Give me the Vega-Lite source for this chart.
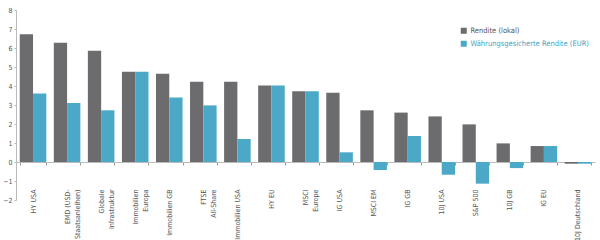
{
  "$schema": "https://vega.github.io/schema/vega-lite/v6.json",
  "width": 579,
  "height": 190,
  "autosize": {"type": "none"},
  "padding": {"left": 16, "top": 10, "right": 5, "bottom": 40},
  "background": "white",
  "config": {
    "view": {"stroke": null},
    "font": "Liberation Sans Narrow, DejaVu Sans Condensed, Roboto"
  },
  "data": {
    "values": [
      {"kategorie": "HY USA", "serie": "Rendite (lokal)", "wert": 6.72},
      {"kategorie": "HY USA", "serie": "Währungsgesicherte Rendite (EUR)", "wert": 3.6},
      {"kategorie": "EMD (USD-Staatsanleihen)", "serie": "Rendite (lokal)", "wert": 6.27},
      {"kategorie": "EMD (USD-Staatsanleihen)", "serie": "Währungsgesicherte Rendite (EUR)", "wert": 3.1},
      {"kategorie": "Globale Infrastruktur", "serie": "Rendite (lokal)", "wert": 5.86},
      {"kategorie": "Globale Infrastruktur", "serie": "Währungsgesicherte Rendite (EUR)", "wert": 2.72},
      {"kategorie": "Immobilien Europa", "serie": "Rendite (lokal)", "wert": 4.75},
      {"kategorie": "Immobilien Europa", "serie": "Währungsgesicherte Rendite (EUR)", "wert": 4.75},
      {"kategorie": "Immobilien GB", "serie": "Rendite (lokal)", "wert": 4.65},
      {"kategorie": "Immobilien GB", "serie": "Währungsgesicherte Rendite (EUR)", "wert": 3.4},
      {"kategorie": "FTSE All-Share", "serie": "Rendite (lokal)", "wert": 4.23},
      {"kategorie": "FTSE All-Share", "serie": "Währungsgesicherte Rendite (EUR)", "wert": 2.98},
      {"kategorie": "Immobilien USA", "serie": "Rendite (lokal)", "wert": 4.23},
      {"kategorie": "Immobilien USA", "serie": "Währungsgesicherte Rendite (EUR)", "wert": 1.21},
      {"kategorie": "HY EU", "serie": "Rendite (lokal)", "wert": 4.02},
      {"kategorie": "HY EU", "serie": "Währungsgesicherte Rendite (EUR)", "wert": 4.02},
      {"kategorie": "MSCI Europe", "serie": "Rendite (lokal)", "wert": 3.72},
      {"kategorie": "MSCI Europe", "serie": "Währungsgesicherte Rendite (EUR)", "wert": 3.72},
      {"kategorie": "IG USA", "serie": "Rendite (lokal)", "wert": 3.65},
      {"kategorie": "IG USA", "serie": "Währungsgesicherte Rendite (EUR)", "wert": 0.51},
      {"kategorie": "MSCI EM", "serie": "Rendite (lokal)", "wert": 2.72},
      {"kategorie": "MSCI EM", "serie": "Währungsgesicherte Rendite (EUR)", "wert": -0.42},
      {"kategorie": "IG GB", "serie": "Rendite (lokal)", "wert": 2.6},
      {"kategorie": "IG GB", "serie": "Währungsgesicherte Rendite (EUR)", "wert": 1.37},
      {"kategorie": "10J USA", "serie": "Rendite (lokal)", "wert": 2.4},
      {"kategorie": "10J USA", "serie": "Währungsgesicherte Rendite (EUR)", "wert": -0.67},
      {"kategorie": "S&P 500", "serie": "Rendite (lokal)", "wert": 1.98},
      {"kategorie": "S&P 500", "serie": "Währungsgesicherte Rendite (EUR)", "wert": -1.14},
      {"kategorie": "10J GB", "serie": "Rendite (lokal)", "wert": 0.98},
      {"kategorie": "10J GB", "serie": "Währungsgesicherte Rendite (EUR)", "wert": -0.32},
      {"kategorie": "IG EU", "serie": "Rendite (lokal)", "wert": 0.84},
      {"kategorie": "IG EU", "serie": "Währungsgesicherte Rendite (EUR)", "wert": 0.84},
      {"kategorie": "10J Deutschland", "serie": "Rendite (lokal)", "wert": -0.09},
      {"kategorie": "10J Deutschland", "serie": "Währungsgesicherte Rendite (EUR)", "wert": -0.09}
    ]
  },
  "mark": {"type": "bar"},
  "encoding": {
    "x": {
      "field": "kategorie",
      "type": "nominal",
      "sort": null,
      "scale": {"paddingInner": 0.22, "paddingOuter": 0.11},
      "axis": {
        "title": null,
        "offset": -38,
        "labelAngle": -90,
        "labelAlign": "right",
        "labelBaseline": "middle",
        "labelPadding": 24,
        "labelFontSize": 7,
        "labelColor": "#555555",
        "labelLineHeight": 10,
        "labelExpr": "datum.label == 'EMD (USD-Staatsanleihen)' ? ['EMD (USD-', 'Staatsanleihen)'] : datum.label == 'Globale Infrastruktur' ? ['Globale', 'Infrastruktur'] : datum.label == 'Immobilien Europa' ? ['Immobilien', 'Europa'] : datum.label == 'FTSE All-Share' ? ['FTSE', 'All-Share'] : datum.label == 'MSCI Europe' ? ['MSCI', 'Europe'] : datum.label",
        "tickBand": "extent",
        "tickSize": 3,
        "tickColor": "#999999",
        "domainColor": "#bbbbbb",
        "labelOverlap": false,
        "labelLimit": 0
      }
    },
    "xOffset": {
      "field": "serie",
      "type": "nominal",
      "sort": ["Rendite (lokal)", "Währungsgesicherte Rendite (EUR)"]
    },
    "y": {
      "field": "wert",
      "type": "quantitative",
      "scale": {"domain": [-2, 8], "nice": false, "zero": true},
      "axis": {
        "title": null,
        "values": [-2, -1, 0, 1, 2, 3, 4, 5, 6, 7, 8],
        "grid": false,
        "labelFontSize": 7,
        "labelColor": "#555555",
        "labelPadding": 2,
        "tickSize": 2,
        "tickColor": "#bbbbbb",
        "domainColor": "#bbbbbb"
      }
    },
    "color": {
      "field": "serie",
      "type": "nominal",
      "sort": ["Rendite (lokal)", "Währungsgesicherte Rendite (EUR)"],
      "scale": {
        "domain": ["Rendite (lokal)", "Währungsgesicherte Rendite (EUR)"],
        "range": ["#6c6b6e", "#4ba9c7"]
      },
      "legend": {
        "title": null,
        "orient": "none",
        "legendX": 444,
        "legendY": 17,
        "symbolType": "square",
        "symbolSize": 36,
        "symbolStrokeWidth": 0,
        "labelFontSize": 7.5,
        "labelOffset": 3,
        "rowPadding": 4,
        "labelLimit": 0,
        "encode": {
          "labels": {
            "update": {
              "fill": {"signal": "datum.value === 'Rendite (lokal)' ? '#555555' : '#3fa3c4'"}
            }
          }
        }
      }
    }
  }
}
